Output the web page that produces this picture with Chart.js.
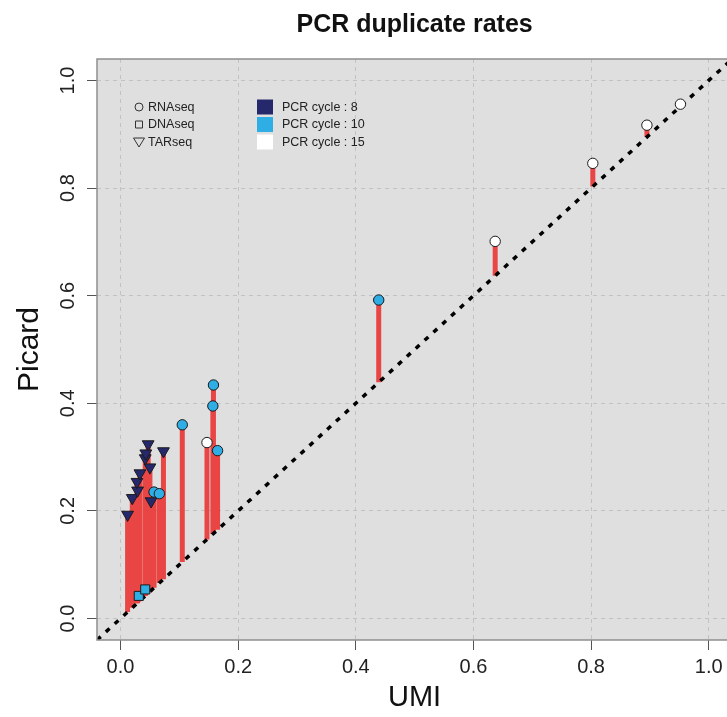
<!DOCTYPE html>
<html>
<head>
<meta charset="utf-8">
<title>PCR duplicate rates</title>
<script src="https://cdn.jsdelivr.net/npm/chart.js@4.4.1/dist/chart.umd.min.js"></script>
<style>
  html, body { margin: 0; padding: 0; background: #fff; overflow: hidden; }
  #wrap { width: 740px; height: 717px; }
</style>
</head>
<body>
<div id="wrap"><canvas id="dupChart" width="740" height="717"></canvas></div>
<script>
// Duplicate rates: UMI based (x) vs Picard (y)
const rnaUmi    = [0.952, 0.895, 0.803, 0.637, 0.439, 0.158, 0.157, 0.147, 0.165, 0.105, 0.057, 0.066];
const rnaPicard = [0.956, 0.917, 0.846, 0.701, 0.592, 0.434, 0.395, 0.327, 0.312, 0.360, 0.235, 0.232];
const rnaCycle  = [15, 15, 15, 15, 10, 10, 10, 15, 10, 10, 10, 10];

const dnaUmi    = [0.031, 0.042];
const dnaPicard = [0.042, 0.054];
const dnaCycle  = [10, 10];

const tarUmi    = [0.012, 0.020, 0.029, 0.028, 0.033, 0.050, 0.042, 0.043, 0.047, 0.052, 0.073];
const tarPicard = [0.193, 0.224, 0.238, 0.254, 0.270, 0.281, 0.298, 0.307, 0.324, 0.218, 0.311];
const tarCycle  = [8, 8, 8, 8, 8, 8, 8, 8, 8, 8, 8];

const assays = ['RNAseq', 'DNAseq', 'TARseq'];
const cycles = [8, 10, 15];
const tickVals = [0, 0.2, 0.4, 0.6, 0.8, 1.0];
const axisMin = -0.04, axisMax = 1.04;

const cycleColors = { 8: '#26286c', 10: '#2eaee4', 15: '#ffffff' };
const FONT = '"Liberation Sans", Arial, Helvetica, sans-serif';

function toPoints(xs, ys) {
    return xs.map((x, i) => ({ x: x, y: ys[i] }));
}

// vertical red segment from the diagonal up to each point, gaps in between
function buildSegments() {
    const xs = rnaUmi.concat(dnaUmi, tarUmi);
    const ys = rnaPicard.concat(dnaPicard, tarPicard);
    const out = [];
    xs.forEach((x, i) => {
        out.push({ x: x, y: x });
        out.push({ x: x, y: ys[i] });
        out.push({ x: x, y: null });
    });
    return out;
}

// grey panel behind the grid, box and title on top
const panelPlugin = {
    id: 'panel',
    beforeDraw(chart) {
        const { ctx, chartArea: a } = chart;
        ctx.save();
        ctx.fillStyle = '#dfdfdf';
        ctx.fillRect(a.left, a.top, a.right - a.left, a.bottom - a.top);
        ctx.restore();
    },
    afterDraw(chart) {
        const { ctx, chartArea: a } = chart;
        ctx.save();
        ctx.strokeStyle = '#8e8e8e';
        ctx.lineWidth = 1.5;
        ctx.strokeRect(a.left, a.top, a.right - a.left, a.bottom - a.top);

        ctx.fillStyle = '#111';
        ctx.font = 'bold 25px ' + FONT;
        ctx.textAlign = 'center';
        ctx.textBaseline = 'alphabetic';
        ctx.fillText('PCR duplicate rates', (a.left + a.right) / 2, 32);
        ctx.restore();
    }
};

// legend inside the panel: assay shapes and PCR cycle colours
const legendPlugin = {
    id: 'pcrLegend',
    afterDraw(chart) {
        const { ctx, chartArea: a } = chart;
        ctx.save();
        ctx.font = '12.5px ' + FONT;
        ctx.textBaseline = 'middle';
        ctx.textAlign = 'left';
        ctx.lineWidth = 1;
        ctx.strokeStyle = '#333';

        assays.forEach((name, i) => {
            const cx = a.left + 42, cy = a.top + 48 + i * 17.5;
            ctx.beginPath();
            if (i === 0) {
                ctx.arc(cx, cy, 4, 0, Math.PI * 2);
            } else if (i === 1) {
                ctx.rect(cx - 3.5, cy - 3.5, 7, 7);
            } else {
                ctx.moveTo(cx - 5.5, cy - 4);
                ctx.lineTo(cx + 5.5, cy - 4);
                ctx.lineTo(cx, cy + 5);
                ctx.closePath();
            }
            ctx.stroke();
            ctx.fillStyle = '#222';
            ctx.fillText(name, a.left + 51, cy + 0.5);
        });

        cycles.forEach((c, i) => {
            const cy = a.top + 48 + i * 17.5;
            ctx.fillStyle = cycleColors[c];
            ctx.fillRect(a.left + 160, cy - 7.5, 16, 15);
            ctx.fillStyle = '#222';
            ctx.fillText('PCR cycle : ' + c, a.left + 185, cy + 0.5);
        });
        ctx.restore();
    }
};

const gridOpts = {
    color: '#c2c2c2',
    lineWidth: 1,
    tickLength: 10,
    tickColor: '#555',
    tickWidth: 1,
    tickBorderDash: []
};

function initChart() {
    const ctx = document.getElementById('dupChart').getContext('2d');
    new Chart(ctx, {
        type: 'scatter',
        data: {
            datasets: [
                {
                    label: 'RNAseq',
                    data: toPoints(rnaUmi, rnaPicard),
                    pointStyle: 'circle',
                    pointRadius: 5.2,
                    pointBackgroundColor: rnaCycle.map(c => cycleColors[c]),
                    pointBorderColor: '#1b1b1b',
                    pointBorderWidth: 1,
                    order: 0
                },
                {
                    label: 'DNAseq',
                    data: toPoints(dnaUmi, dnaPicard),
                    pointStyle: 'rect',
                    pointRadius: 6.4,
                    pointBackgroundColor: dnaCycle.map(c => cycleColors[c]),
                    pointBorderColor: '#1b1b1b',
                    pointBorderWidth: 1,
                    order: 0
                },
                {
                    label: 'TARseq',
                    data: toPoints(tarUmi, tarPicard),
                    pointStyle: 'triangle',
                    pointRotation: 180,
                    pointRadius: 6.8,
                    pointBackgroundColor: tarCycle.map(c => cycleColors[c]),
                    pointBorderColor: '#1b1b1b',
                    pointBorderWidth: 1,
                    order: 0
                },
                {
                    type: 'line',
                    label: 'identity',
                    data: [{ x: axisMin, y: axisMin }, { x: axisMax, y: axisMax }],
                    borderColor: '#000',
                    borderWidth: 3.5,
                    borderDash: [5, 7],
                    pointRadius: 0,
                    fill: false,
                    order: 1
                },
                {
                    type: 'line',
                    label: 'difference',
                    data: buildSegments(),
                    borderColor: 'rgba(236, 48, 48, 0.88)',
                    borderWidth: 5,
                    borderCapStyle: 'butt',
                    pointRadius: 0,
                    spanGaps: false,
                    fill: false,
                    order: 2
                }
            ]
        },
        options: {
            responsive: false,
            animation: false,
            layout: { padding: { top: 59, right: 6.4, left: 0, bottom: 0 } },
            plugins: {
                legend: { display: false },
                tooltip: { enabled: false },
                title: { display: false }
            },
            scales: {
                x: {
                    type: 'linear',
                    min: axisMin,
                    max: axisMax,
                    afterBuildTicks: s => { s.ticks = tickVals.map(v => ({ value: v })); },
                    afterFit: s => { s.height = 77; },
                    grid: gridOpts,
                    border: { display: false, dash: [4, 4] },
                    ticks: {
                        font: { family: FONT, size: 20 },
                        color: '#222',
                        padding: 5,
                        maxRotation: 0,
                        callback: v => v.toFixed(1)
                    },
                    title: {
                        display: true,
                        text: 'UMI',
                        font: { family: FONT, size: 29 },
                        color: '#111',
                        padding: { top: 0, bottom: 2 }
                    }
                },
                y: {
                    type: 'linear',
                    min: axisMin,
                    max: axisMax,
                    afterBuildTicks: s => { s.ticks = tickVals.map(v => ({ value: v })); },
                    afterFit: s => { s.width = 97; },
                    grid: gridOpts,
                    border: { display: false, dash: [4, 4] },
                    ticks: {
                        font: { family: FONT, size: 20 },
                        color: '#222',
                        padding: 5,
                        minRotation: 90,
                        maxRotation: 90,
                        crossAlign: 'center',
                        callback: v => v.toFixed(1)
                    },
                    title: {
                        display: true,
                        text: 'Picard',
                        font: { family: FONT, size: 30 },
                        color: '#111',
                        padding: { top: 12, bottom: 0 }
                    }
                }
            }
        },
        plugins: [panelPlugin, legendPlugin]
    });
}

document.addEventListener('DOMContentLoaded', initChart);
</script>
</body>
</html>
